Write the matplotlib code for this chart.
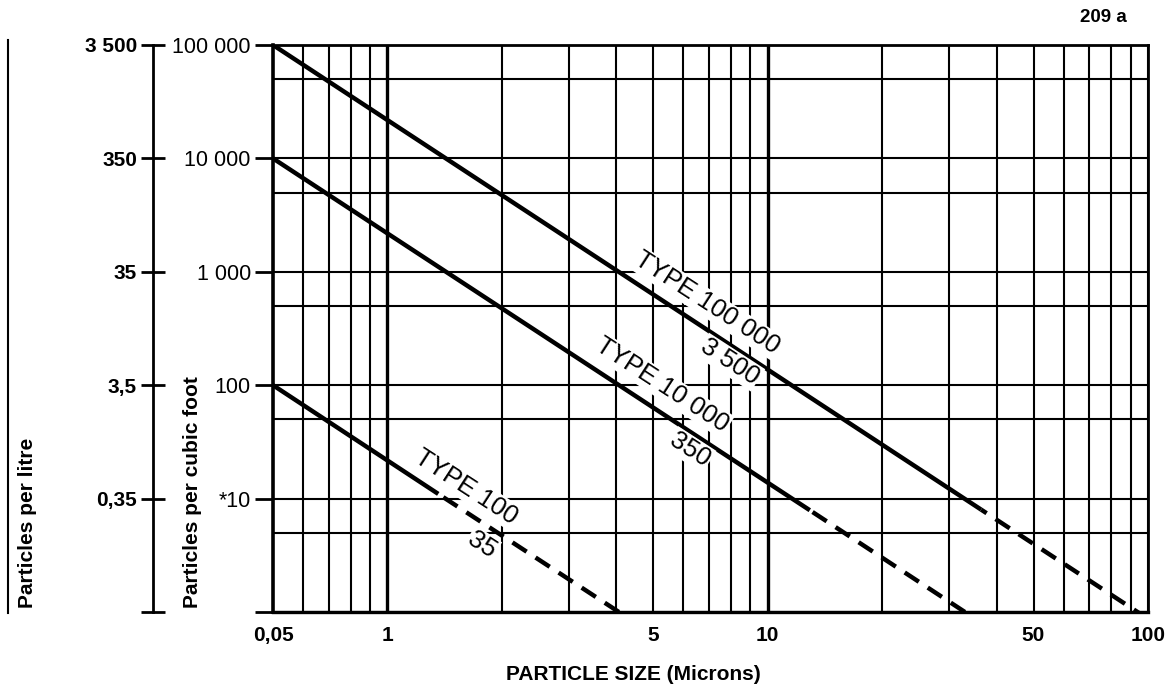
import matplotlib
matplotlib.use("Agg")
import matplotlib.pyplot as plt
from matplotlib.lines import Line2D
from matplotlib.ticker import NullLocator

plt.rcParams['font.family'] = ['Liberation Sans', 'DejaVu Sans']

W, H = 1171, 688

# particle size axis (microns), log scale
x_grid = [0.5, 0.6, 0.7, 0.8, 0.9, 1, 2, 3, 4, 5, 6, 7, 8, 9,
          10, 20, 30, 40, 50, 60, 70, 80, 90, 100]
x_heavy = [1, 10]
x_tick_vals = [0.5, 1, 5, 10, 50, 100]
x_tick_labels = ['0,05', '1', '5', '10', '50', '100']

# concentration axes
y_grid = [1, 5, 10, 50, 100, 500, 1000, 5000, 10000, 50000, 100000]
y_tick_vals = [1, 10, 100, 1000, 10000, 100000]
y_ft3_labels = ['', '*10', '100', '1 000', '10 000', '100 000']
y_litre_labels = ['', '0,35', '3,5', '35', '350', '3 500']

# class limit lines: solid part, then dashed continuation
class_names = ['TYPE 100 000', 'TYPE 10 000', 'TYPE 100']
class_litre = ['3 500', '350', '35']
solid_x = [[0.5, 36.4], [0.5, 12.9], [0.5, 1.36]]
solid_y = [[100000, 8.0], [10000, 7.9], [100, 11.0]]
dash_x = [[36.4, 100], [12.9, 33.0], [1.36, 4.06]]
dash_y = [[8.0, 0.87], [7.9, 1.0], [11.0, 1.0]]
name_xy = [(6.91, 531), (5.28, 100), (1.61, 12.6)]
litre_xy = [(7.95, 160), (6.25, 27.0), (1.77, 3.9)]

fig = plt.figure(figsize=(W / 100, H / 100), dpi=100)
left, right, top, bottom = 273, 1148, 45, 612
ax = fig.add_axes([left / W, 1 - bottom / H, (right - left) / W, (bottom - top) / H])
ax.set_xscale('log')
ax.set_yscale('log')
ax.set_xlim(0.5, 100)
ax.set_ylim(1, 100000)

# grid
for xv in x_grid:
    lw = 2.4 if xv in x_heavy else 1.5
    ax.axvline(xv, color='black', lw=lw, zorder=1)
for yv in y_grid:
    ax.axhline(yv, color='black', lw=1.5, zorder=1)

for sp in ax.spines.values():
    sp.set_linewidth(2.0)
ax.spines['left'].set_linewidth(2.6)
ax.spines['bottom'].set_linewidth(2.4)

ax.set_xticks(x_tick_vals, x_tick_labels)
ax.xaxis.set_minor_locator(NullLocator())
ax.tick_params(axis='x', length=0, pad=10, labelsize=15)
for t in ax.get_xticklabels():
    t.set_fontweight('bold')

ax.set_yticks(y_tick_vals, y_ft3_labels)
ax.yaxis.set_minor_locator(NullLocator())
ax.tick_params(axis='y', length=13, width=2, direction='out', pad=3, labelsize=15.5)

# class lines and labels
for i in range(len(class_names)):
    ax.plot(solid_x[i], solid_y[i], color='black', lw=3.2,
            solid_capstyle='butt', zorder=3)
    # drawn from the low end so the pattern finishes with a dash on the axis
    ax.plot(dash_x[i][::-1], dash_y[i][::-1], color='black', lw=3.2,
            linestyle=(0, (3.8, 2.4)), zorder=3)
    box = dict(facecolor='white', edgecolor='none', pad=1.0)
    ax.text(*name_xy[i], class_names[i], rotation=-33, rotation_mode='anchor',
            ha='center', va='center', fontsize=18.5, bbox=box, zorder=4)
    ax.text(*litre_xy[i], class_litre[i], rotation=-33, rotation_mode='anchor',
            ha='center', va='center', fontsize=18.5, bbox=box, zorder=4)

# particles per litre scale
ax2 = fig.add_axes([153 / W, 1 - bottom / H, 0.0001, (bottom - top) / H])
ax2.set_yscale('log')
ax2.set_ylim(1, 100000)
ax2.patch.set_visible(False)
for name in ('right', 'top', 'bottom'):
    ax2.spines[name].set_visible(False)
ax2.spines['left'].set_linewidth(2.0)
ax2.set_xticks([])
ax2.set_yticks(y_tick_vals, y_litre_labels)
ax2.yaxis.set_minor_locator(NullLocator())
ax2.tick_params(axis='y', length=17, width=2, direction='inout', pad=3, labelsize=15)
for t in ax2.get_yticklabels():
    t.set_fontweight('bold')

fig.add_artist(Line2D([8 / W, 8 / W], [1 - 40 / H, 1 - 613 / H], color='black', lw=1.5))

fig.text(193 / W, 1 - 608 / H, 'Particles per cubic foot', rotation=90,
         ha='center', va='bottom', fontsize=15, fontweight='bold')
fig.text(28 / W, 1 - 608 / H, 'Particles per litre', rotation=90,
         ha='center', va='bottom', fontsize=15, fontweight='bold')
fig.text(633 / W, 1 - 675 / H, 'PARTICLE SIZE (Microns)', ha='center', va='center',
         fontsize=15, fontweight='bold')
fig.text(1103 / W, 1 - 18 / H, '209 a', ha='center', va='center',
         fontsize=13.5, fontweight='bold')

fig.savefig('out.png', dpi=100)
